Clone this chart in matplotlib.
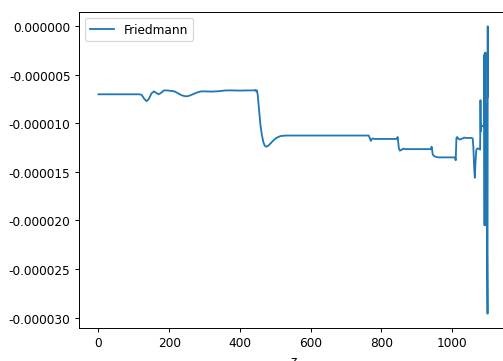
import matplotlib
matplotlib.use("Agg")
import matplotlib.pyplot as plt
import numpy as np

z = [0, 20, 40, 60, 80, 100, 115, 122, 130, 136, 142, 150, 157, 163, 170, 177, 185, 195,
     205, 215, 225, 235, 245, 252, 260, 270, 280, 290, 300, 320, 340, 360, 380, 400, 420,
     440, 444, 446, 448, 450, 452, 455, 458, 462, 466, 470, 475, 480, 488, 496, 505, 515,
     530, 560, 600, 650, 700, 740, 764, 767, 770, 773, 776, 780, 800, 820, 843, 846, 849,
     852, 856, 862, 866, 880, 900, 920, 940, 942, 945, 950, 960, 980, 1000, 1008, 1010,
     1012, 1014, 1018, 1022, 1026, 1030, 1034, 1038, 1042, 1048, 1055, 1058, 1060, 1062,
     1064, 1066, 1068, 1070, 1075, 1079, 1080, 1081, 1082, 1085, 1088, 1090,
     1091, 1091.5, 1092, 1092.5, 1093, 1093.5, 1094, 1094.5, 1095, 1095.5, 1096,
     1100, 1100.5, 1101, 1101.5]

friedmann_e6 = [-7.0, -7.0, -7.0, -7.0, -7.0, -7.0, -7.0, -7.05, -7.5, -7.7, -7.5, -6.9,
                -6.7, -6.85, -7.0, -6.85, -6.6, -6.6, -6.65, -6.7, -6.9, -7.1, -7.2, -7.2,
                -7.1, -6.95, -6.8, -6.7, -6.7, -6.72, -6.68, -6.6, -6.6, -6.62, -6.6,
                -6.6, -6.55, -6.7, -6.6, -7.0, -7.8, -9.0, -10.2, -11.2, -11.9, -12.3, -12.4,
                -12.3, -12.0, -11.7, -11.45, -11.3, -11.25, -11.25, -11.25, -11.25, -11.25,
                -11.25, -11.25, -11.5, -11.8, -11.6, -11.55, -11.6, -11.6, -11.6, -11.6,
                -11.4, -12.5, -12.8, -12.75, -12.6, -12.65, -12.65, -12.65, -12.65, -12.65,
                -12.4, -13.2, -13.4, -13.5, -13.5, -13.5, -13.5, -13.8,
                -11.5, -11.4, -11.6, -11.65, -11.6, -11.55, -11.45, -11.5, -11.5, -11.5,
                -11.5, -11.55, -12.5, -14.5, -15.6, -14.0, -12.8, -12.6, -12.6, -12.7,
                -7.6, -10.8, -10.3, -10.3, -10.2, -10.3,
                -3.0, -20.5, -2.8, -20.2, -3.2, -20.0, -2.7, -20.5, -8.0, -19.5, -10.0,
                -29.6, 0.0, -7.3, -7.3]

friedmann = np.array(friedmann_e6) * 1e-6

dpi = 87
fig = plt.figure(figsize=(503 / dpi, 362 / dpi), dpi=dpi)
ax = fig.add_axes([79 / 503, 33 / 362, 0.852, 316 / 362])
ax.plot(z, friedmann, color="#1f77b4", lw=1.5, label="Friedmann")
ax.set_xlabel("z")
ax.set_xticks([0, 200, 400, 600, 800, 1000])
ax.set_yticks([0, -5e-6, -1e-5, -1.5e-5, -2e-5, -2.5e-5, -3e-5])
ax.set_yticklabels(["0.000000", "-0.000005", "-0.000010", "-0.000015",
                    "-0.000020", "-0.000025", "-0.000030"])
ax.legend(loc="upper left")
fig.savefig("out.png", dpi=dpi)
